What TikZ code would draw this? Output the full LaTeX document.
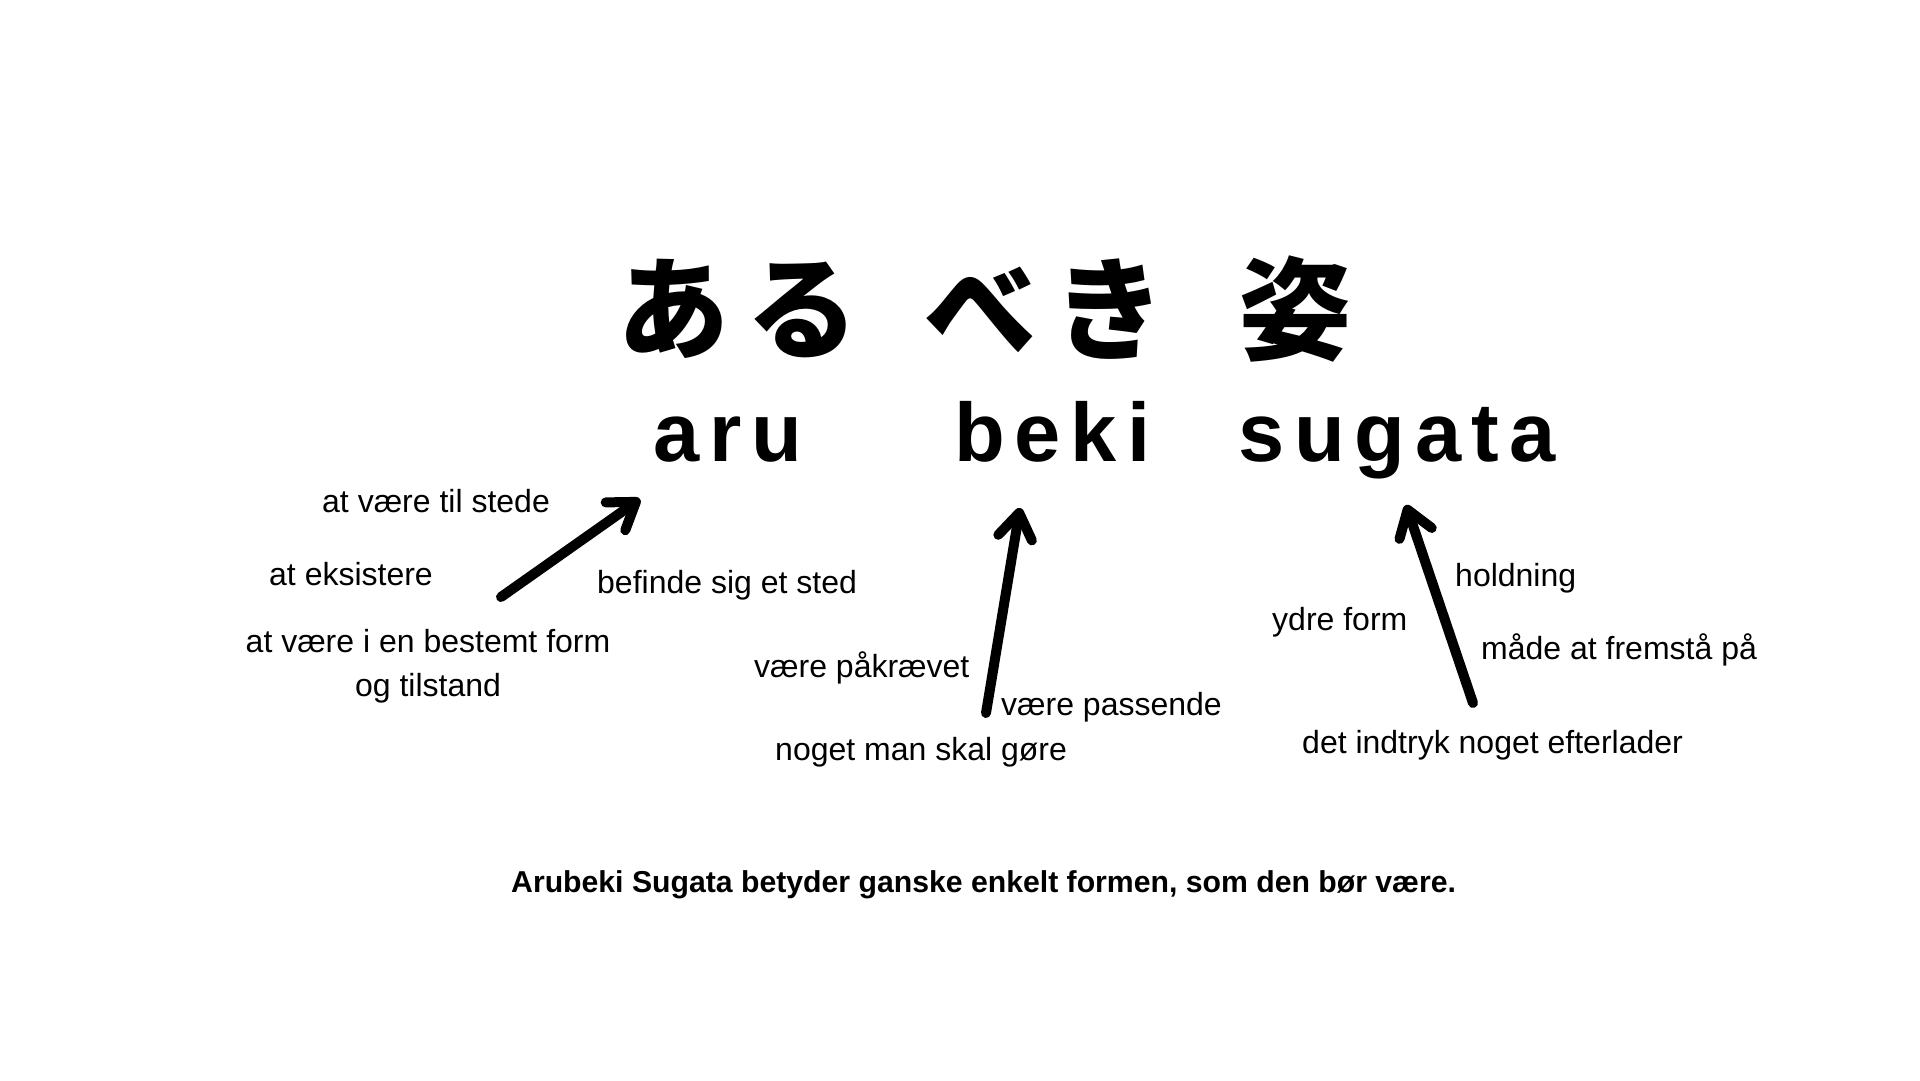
\documentclass[tikz,border=0pt]{standalone}
\usepackage{fontspec}
\setmainfont{Liberation Sans}
\newfontfamily\jpfont[LetterSpace=15]{Noto Sans CJK JP}
\newfontfamily\romajifont[LetterSpace=12]{Liberation Sans}
\usetikzlibrary{arrows.meta}

\begin{document}
\begin{tikzpicture}[x=1pt,y=-1pt,
    meaning/.style={anchor=base west,inner sep=0pt,font=\fontsize{32}{44}\selectfont},
    romaji/.style={anchor=base west,inner sep=0pt,font=\romajifont\bfseries\fontsize{83}{90}\selectfont},
    kana/.style={inner sep=0pt,font=\jpfont\bfseries\fontsize{112}{120}\selectfont},
    pointer/.style={line width=10pt,line cap=round,-{Straight Barb[length=25pt,width=34pt,round]}}]
    \fill[white] (0,0) rectangle (1920,1080);
    \useasboundingbox (0,0) rectangle (1920,1080);

    % Japansk skrift
    \node[kana] (aruJp) at (738,309) {ある};
    \node[kana] (bekiJp) at (1045,309) {べき};
    \node[kana] (sugataJp) at (1295,309) {姿};

    % Romaji
    \node[romaji] (aru) at (653,461) {aru};
    \node[romaji] (beki) at (954,461) {beki};
    \node[romaji] (sugata) at (1238,461) {sugata};

    % aru
    \node[meaning] (stede) at (322,512) {at være til stede};
    \node[meaning] (eksistere) at (269,585) {at eksistere};
    \node[meaning] (befinde) at (597,593) {befinde sig et sted};
    \node[meaning,anchor=north,align=center] (tilstand) at (428,629) {at være i en bestemt form\\og tilstand};
    \coordinate (aruTail) at (501,597);
    \coordinate (aruTip) at (640,499);
    \draw[pointer] (aruTail) -- (aruTip);

    % beki
    \node[meaning] (paakraevet) at (754,677) {være påkrævet};
    \node[meaning] (passende) at (1001,715) {være passende};
    \node[meaning] (goere) at (775,760) {noget man skal gøre};
    \coordinate (bekiTail) at (986,713);
    \coordinate (bekiTip) at (1020,508);
    \draw[pointer] (bekiTail) -- (bekiTip);

    % sugata
    \node[meaning] (holdning) at (1455,586) {holdning};
    \node[meaning] (ydre) at (1272,630) {ydre form};
    \node[meaning] (maade) at (1481,659) {måde at fremstå på};
    \node[meaning] (indtryk) at (1302,753) {det indtryk noget efterlader};
    \coordinate (sugataTail) at (1473,703);
    \coordinate (sugataTip) at (1406,505);
    \draw[pointer] (sugataTail) -- (sugataTip);

    % Forklaring
    \node[anchor=base west,inner sep=0pt,font=\bfseries\fontsize{30.2}{36}\selectfont] (forklaring) at (511,892)
        {Arubeki Sugata betyder ganske enkelt formen, som den bør være.};
\end{tikzpicture}
\end{document}
